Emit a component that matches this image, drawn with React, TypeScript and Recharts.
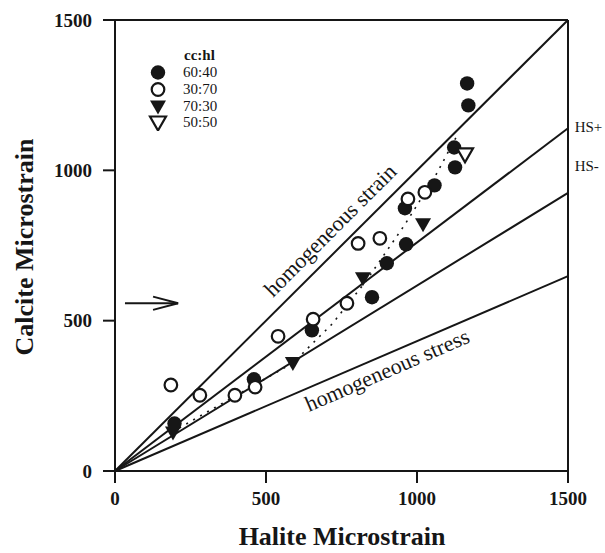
import React from 'react'
import {
  ScatterChart, Scatter, XAxis, YAxis, ReferenceLine, ReferenceDot,
} from 'recharts'

const FONT = '"Liberation Serif", "Times New Roman", serif'
const INK = '#161616'

// axis ticks
const xTicks = [0, 500, 1000, 1500]
const yTicks = [0, 500, 1000, 1500]

// cc:hl sample groups (halite, calcite microstrain)
const cc60_40 = [
  { x: 197, y: 158 }, { x: 460, y: 305 }, { x: 652, y: 468 }, { x: 851, y: 578 },
  { x: 900, y: 691 }, { x: 964, y: 754 }, { x: 960, y: 874 }, { x: 1058, y: 950 },
  { x: 1123, y: 1076 }, { x: 1126, y: 1010 }, { x: 1166, y: 1289 }, { x: 1170, y: 1216 },
]
const cc30_70 = [
  { x: 185, y: 286 }, { x: 281, y: 252 }, { x: 397, y: 252 }, { x: 464, y: 279 },
  { x: 540, y: 448 }, { x: 656, y: 505 }, { x: 768, y: 558 }, { x: 805, y: 757 },
  { x: 877, y: 774 }, { x: 970, y: 905 }, { x: 1026, y: 927 },
]
const cc70_30 = [
  { x: 192, y: 128 }, { x: 589, y: 359 }, { x: 821, y: 641 }, { x: 1020, y: 821 },
]
const cc50_50 = [{ x: 1159, y: 1053 }]

// dotted trend through the groups
const trend = [
  { x: 190, y: 130 }, { x: 590, y: 360 }, { x: 720, y: 490 }, { x: 830, y: 630 },
  { x: 960, y: 820 }, { x: 1060, y: 980 }, { x: 1135, y: 1120 },
]

// end points of the bounding lines from the origin
const strainEnd = 1500
const hsPlusEnd = 1140
const hsMinusEnd = 925
const stressEnd = 648

// arrow at left
const arrowY = 558
const arrowFrom = 33
const arrowTip = 209
const arrowBackX = 126
const arrowHalf = 22

const legendItems = [
  { label: '60:40', kind: 'dot' },
  { label: '30:70', kind: 'ring' },
  { label: '70:30', kind: 'tri' },
  { label: '50:50', kind: 'triOpen' },
]

function Marker({ cx, cy, kind }: { cx: number; cy: number; kind: string }) {
  if (kind === 'dot') return <circle cx={cx} cy={cy} r={7.2} fill={INK} />
  if (kind === 'ring') return <circle cx={cx} cy={cy} r={6.3} fill="#fff" stroke={INK} strokeWidth={2.2} />
  const pts = `${cx - 8},${cy - 6} ${cx + 8},${cy - 6} ${cx},${cy + 8}`
  if (kind === 'tri') return <polygon points={pts} fill={INK} />
  return <polygon points={pts} fill="#fff" stroke={INK} strokeWidth={2.2} strokeLinejoin="miter" />
}

const shapeOf = (kind: string) => (p: any) => <Marker cx={p.cx} cy={p.cy} kind={kind} />

function Legend() {
  return (
    <div style={{ position: 'absolute', left: 148, top: 47, fontFamily: FONT, color: INK }}>
      <div style={{ marginLeft: 36, fontWeight: 'bold', fontSize: 15, lineHeight: '17px' }}>cc:hl</div>
      {legendItems.map((it) => (
        <div key={it.label} style={{ display: 'flex', alignItems: 'center', height: 16.8 }}>
          <svg width={22} height={17}>
            <Marker cx={10} cy={8.5} kind={it.kind} />
          </svg>
          <span style={{ marginLeft: 13, fontSize: 15 }}>{it.label}</span>
        </div>
      ))}
    </div>
  )
}

function rotText(text: string, angle: number, size: number, anchor = 'middle') {
  return (p: any) => (
    <text
      x={p.cx} y={p.cy}
      transform={`rotate(${angle} ${p.cx} ${p.cy})`}
      textAnchor={anchor}
      dominantBaseline="central"
      fontFamily={FONT}
      fontSize={size}
      fill={INK}
    >
      {text}
    </text>
  )
}

const lineProps = { stroke: INK, strokeWidth: 2, ifOverflow: 'visible' as const }

export default function App() {
  return (
    <div style={{ position: 'absolute', left: 0, top: 0, width: 605, height: 553, background: '#fff' }}>
      <ScatterChart width={605} height={553} margin={{ top: 20, right: 37, bottom: 0, left: 0 }}>
        <XAxis
          type="number" dataKey="x" domain={[0, 1500]} ticks={xTicks}
          height={82} tickSize={12} tickMargin={9}
          stroke={INK} strokeWidth={2}
          tick={{ fill: INK, fontSize: 19, fontWeight: 'bold', fontFamily: FONT }}
          label={{
            content: () => (
              <text x={342} y={545} textAnchor="middle" fontFamily={FONT} fontWeight="bold" fontSize={26} fill={INK}>
                Halite Microstrain
              </text>
            ),
          }}
        />
        <YAxis
          type="number" dataKey="y" domain={[0, 1500]} ticks={yTicks}
          width={115} tickSize={12} tickMargin={11}
          stroke={INK} strokeWidth={2}
          tick={{ fill: INK, fontSize: 19, fontWeight: 'bold', fontFamily: FONT }}
          label={{
            content: () => (
              <text x={33} y={247} transform="rotate(-90 33 247)" textAnchor="middle" fontFamily={FONT} fontWeight="bold" fontSize={26} fill={INK}>
                Calcite Microstrain
              </text>
            ),
          }}
        />

        {/* frame */}
        <ReferenceLine y={1500} {...lineProps} />
        <ReferenceLine x={1500} {...lineProps} />

        {/* bounds */}
        <ReferenceLine segment={[{ x: 0, y: 0 }, { x: 1500, y: strainEnd }]} {...lineProps} />
        <ReferenceLine segment={[{ x: 0, y: 0 }, { x: 1500, y: hsPlusEnd }]} {...lineProps} />
        <ReferenceLine segment={[{ x: 0, y: 0 }, { x: 1500, y: hsMinusEnd }]} {...lineProps} />
        <ReferenceLine segment={[{ x: 0, y: 0 }, { x: 1500, y: stressEnd }]} {...lineProps} />

        {/* arrow */}
        <ReferenceLine segment={[{ x: arrowFrom, y: arrowY }, { x: arrowTip, y: arrowY }]} {...lineProps} />
        <ReferenceLine segment={[{ x: arrowBackX, y: arrowY + arrowHalf }, { x: arrowTip, y: arrowY }]} {...lineProps} />
        <ReferenceLine segment={[{ x: arrowBackX, y: arrowY - arrowHalf }, { x: arrowTip, y: arrowY }]} {...lineProps} />

        {/* annotations */}
        <ReferenceDot x={712} y={801} r={0} ifOverflow="visible" shape={rotText('homogeneous strain', -45, 22)} />
        <ReferenceDot x={901} y={336} r={0} ifOverflow="visible" shape={rotText('homogeneous stress', -23.4, 22)} />
        <ReferenceDot x={1522} y={1143} r={0} ifOverflow="visible" shape={rotText('HS+', 0, 15, 'start')} />
        <ReferenceDot x={1522} y={1013} r={0} ifOverflow="visible" shape={rotText('HS-', 0, 15, 'start')} />

        <Scatter
          data={trend} isAnimationActive={false}
          line={{ stroke: INK, strokeWidth: 1.6, strokeDasharray: '2 6' }}
          lineType="joint"
          shape={() => <g />}
        />
        <Scatter data={cc60_40} isAnimationActive={false} shape={shapeOf('dot')} />
        <Scatter data={cc30_70} isAnimationActive={false} shape={shapeOf('ring')} />
        <Scatter data={cc70_30} isAnimationActive={false} shape={shapeOf('tri')} />
        <Scatter data={cc50_50} isAnimationActive={false} shape={shapeOf('triOpen')} />
      </ScatterChart>
      <Legend />
    </div>
  )
}
